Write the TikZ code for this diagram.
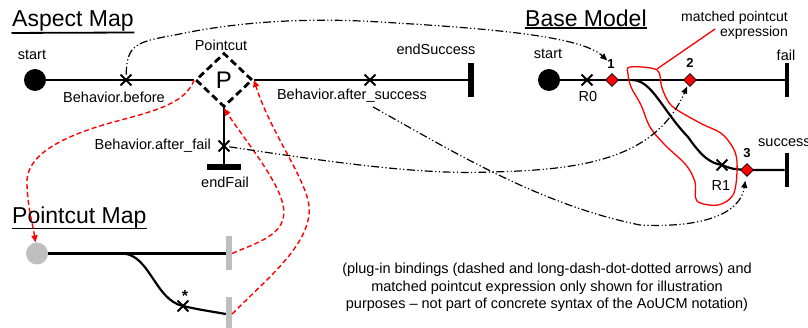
\documentclass[tikz,border=0pt]{standalone}
\usepackage{fontspec}
\setmainfont{Liberation Sans}
\usetikzlibrary{shapes.geometric,shapes.misc,arrows.meta}

\begin{document}
\begin{tikzpicture}[x=1pt,y=-1pt,>={Triangle[length=7pt,width=6pt]},
  font=\fontsize{14.5}{17.5}\selectfont,
  title/.style={font=\fontsize{23}{26}\selectfont,anchor=base west,inner sep=0pt},
  lbl/.style={inner sep=0pt},
  num/.style={font=\fontsize{13}{15}\selectfont\bfseries,inner sep=0pt},
  startpt/.style={circle,fill=black,minimum size=22pt,inner sep=0pt},
  pcstart/.style={circle,fill=black!25,minimum size=22pt,inner sep=0pt},
  xmark/.style={cross out,draw,line width=1.8pt,minimum size=9pt,inner sep=0pt},
  vbar/.style={fill=black,minimum width=6pt,minimum height=34pt,inner sep=0pt},
  hbar/.style={fill=black,minimum width=34pt,minimum height=6pt,inner sep=0pt},
  gbar/.style={fill=black!25,minimum width=6pt,minimum height=34pt,inner sep=0pt},
  pointcut/.style={diamond,draw,line width=2.8pt,dash pattern=on 7pt off 4pt,
    minimum width=57pt,minimum height=54pt,inner sep=0pt,font=\fontsize{24}{26}\selectfont},
  stub/.style={diamond,fill=red,draw=black,line width=0.6pt,minimum size=13pt,inner sep=0pt},
  flow/.style={line width=2.2pt},
  bind/.style={->,red,line width=1.4pt,dash pattern=on 5pt off 3pt},
  plug/.style={->,line width=1.2pt,dash pattern=on 8pt off 2.5pt on 1.2pt off 2.5pt on 1.2pt off 2.5pt},
  match/.style={red,line width=1.3pt},
  uline/.style={line width=1.8pt,shorten <=-0.5pt,shorten >=-0.5pt}]

    \useasboundingbox (0,0) rectangle (808,328);

    % Aspect map
    \node [title] at (12,26.5) (tAspect) {Aspect Map};
    \draw [uline] (tAspect.south west) ++(0,1.5) -- (tAspect.south east |- 0,32.5);
    \node [startpt] at (35,80) (aStart) {};
    \node [lbl] at (32,55) {start};
    \node [pointcut] at (224,80) (P) {P};
    \node [lbl] at (221,45) {Pointcut};
    \node [vbar] at (471,80) (aEndS) {};
    \node [lbl] at (436,49) {endSuccess};
    \node [hbar] at (224,167) (aEndF) {};
    \node [lbl] at (225,182) {endFail};

    \draw [flow] (aStart) -- (P.west);
    \draw [flow] (P.east) -- (aEndS);
    \draw [flow] (P.south) -- (aEndF);

    \node [xmark] at (126,80) (xBefore) {};
    \node [lbl] at (114,97) (lBefore) {Behavior.before};
    \node [xmark] at (370,80) (xSucc) {};
    \node [lbl] at (352,96) (lSucc) {Behavior.after\_success};
    \node [xmark] at (224,146) (xFail) {};
    \node [lbl,anchor=east] at (211,146) (lFail) {Behavior.after\_fail};

    % Base model
    \node [title] at (525,26.5) (tBase) {Base Model};
    \draw [uline] (tBase.south west |- 0,28) -- (tBase.south east |- 0,28);
    \node [startpt] at (549,80) (bStart) {};
    \node [lbl] at (548,54) {start};
    \node [vbar,minimum width=4.5pt] at (787,80) (bFail) {};
    \node [lbl] at (786,55) {fail};
    \node [vbar,minimum width=4.5pt] at (787,170) (bSucc) {};
    \node [lbl,anchor=west] at (758,143) {success};
    \coordinate (bBr) at (632,80);
    \coordinate (r1) at (722,165);
    \coordinate (s3) at (747,170);

    \draw [flow] (bStart) -- (bFail);
    \draw [flow] (bBr) .. controls (652,80) and (662,110) .. (688,137)
      .. controls (702,157) and (710,163) .. (r1) .. controls (732,169) .. (s3) -- (bSucc);

    \node [xmark] at (587,80) (xR0) {};
    \node [lbl] at (588,97) {R0};
    \node [stub] at (612,80) (d1) {};
    \node [num] at (611,64) (n1) {1};
    \node [stub] at (690,80) (d2) {};
    \node [num] at (690,63) (n2) {2};
    \node [xmark] at (r1) (xR1) {};
    \node [lbl] at (721,186) {R1};
    \node [stub] at (s3) (d3) {};
    \node [num] at (747,153) (n3) {3};

    % matched pointcut expression
    \node [lbl,align=right,anchor=north east,font=\fontsize{14}{15}\selectfont] at (788,11) (lMatch) {matched pointcut\\expression};
    \coordinate (mTip) at (715,29);
    \coordinate (mBlob) at (657,69);
    \draw [match] plot [smooth cycle,tension=0.55] coordinates {(630,67) (657,70) (662,88) (672,106)
      (700,123) (722,134) (735,152) (737,172) (733,195) (718,205) (697,201) (695,182)
      (686,165) (665,145) (650,127) (641,105) (631,87) (628,74)};
    \draw [match] (mBlob) -- (mTip);

    % Pointcut map
    \node [title] at (12,223.5) (tPc) {Pointcut Map};
    \draw [uline] (tPc.south west |- 0,228.5) -- (tPc.south east |- 0,228.5);
    \node [pcstart] at (37,253.5) (cStart) {};
    \node [gbar] at (229,253.5) (cEnd1) {};
    \node [gbar] at (229,314) (cEnd2) {};
    \coordinate (cBr) at (123,253.5);
    \coordinate (cStar) at (183,306);

    \draw [flow] (cStart) -- (cEnd1);
    \draw [flow] (cBr) .. controls (150,255) and (155,300) .. (cStar)
      .. controls (200,310) and (215,312) .. (cEnd2.west);
    \node [xmark] at (cStar) (xStar) {};
    \node [lbl,font=\fontsize{16}{18}\selectfont\bfseries] at (185,296) {*};

    % plug-in bindings
    \draw [bind] (P.west) .. controls (185,105) and (150,112) .. (110,123)
      .. controls (50,140) and (25,160) .. (27,185) .. controls (28,210) and (33,225) .. (cStart);
    \draw [bind] (cEnd1.east) .. controls (255,243) and (290,235) .. (283,205)
      .. controls (278,180) and (245,140) .. (P.south);
    \draw [bind] (cEnd2.east) .. controls (265,280) and (318,240) .. (308,200)
      .. controls (300,170) and (270,130) .. (P.east);

    \draw [plug] (xBefore) .. controls (127,45) and (135,42) .. (175,35)
      .. controls (230,23) and (300,17) .. (380,22) .. controls (480,28) and (580,35) .. (n1);
    \draw [plug,shorten >=5pt] ([xshift=21pt,yshift=-4pt]lSucc.south) .. controls (450,150) and (540,205) .. (640,225)
      .. controls (700,228) and (740,215) .. (d3);
    \draw [plug,shorten >=2pt] (xFail) .. controls (330,162) and (420,175) .. (490,172)
      .. controls (580,170) and (655,160) .. (d2);

    % note
    \node [lbl,align=center] at (547,287.5) (note) {(plug-in bindings (dashed and long-dash-dot-dotted arrows) and\\
      matched pointcut expression only shown for illustration\\
      purposes -- not part of concrete syntax of the AoUCM notation)};

\end{tikzpicture}
\end{document}
